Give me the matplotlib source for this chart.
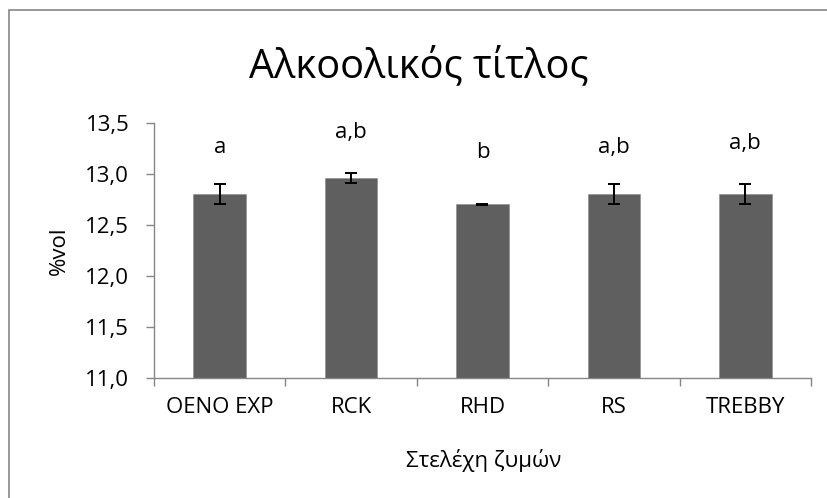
import matplotlib
matplotlib.use("Agg")
import matplotlib.pyplot as plt
from matplotlib.patches import Rectangle

plt.rcParams['font.family'] = ['Open Sans', 'DejaVu Sans']

# Alcohol content per yeast strain (% vol), with standard deviation
strains = ["OENO EXP", "RCK", "RHD", "RS", "TREBBY"]
alcohol = [12.8, 12.96, 12.7, 12.8, 12.8]
alcohol_sd = [0.1, 0.05, 0.005, 0.1, 0.1]
# Statistical grouping letters and the height at which they are written
groups = ["a", "a,b", "b", "a,b", "a,b"]
group_label_y = [13.26, 13.40, 13.21, 13.26, 13.30]

y_ticks = [11.0, 11.5, 12.0, 12.5, 13.0, 13.5]
y_tick_labels = ["11,0", "11,5", "12,0", "12,5", "13,0", "13,5"]

W, H = 828, 498
FS = 16
fig = plt.figure(figsize=(W / 100, H / 100), dpi=100)

# outer chart-area frame
fig.patches.append(Rectangle((8.5 / W, -0.1), 1.2, 1.1 - 10.5 / H,
                             transform=fig.transFigure, fill=False,
                             edgecolor="#868686", linewidth=1.2))

ax = fig.add_axes([154 / W, 1 - 378 / H, 657 / W, 255.3 / H])
x = list(range(len(strains)))
ax.bar(x, [v - 11.0 for v in alcohol], bottom=11.0, width=0.4,
       color="#5f5f5f", edgecolor="#8a8a8a", linewidth=0.4, zorder=2)
ax.errorbar(x, alcohol, yerr=alcohol_sd, fmt="none", ecolor="black",
            elinewidth=1.4, capsize=4.3, capthick=1.4, zorder=3)

for xi, txt, ty in zip(x, groups, group_label_y):
    ax.text(xi, ty, txt, ha="center", va="center", fontsize=FS)

ax.set_xlim(-0.5, len(strains) - 0.5)
ax.set_ylim(11.0, 13.5)
ax.set_yticks(y_ticks)
ax.set_yticklabels(y_tick_labels, fontsize=FS)
ax.set_xticks(x)
ax.set_xticklabels(strains, fontsize=FS)
ax.set_xticks([i - 0.5 for i in range(len(strains) + 1)], minor=True)
ax.tick_params(axis="x", which="major", length=0, pad=13.5)
ax.tick_params(axis="x", which="minor", length=5.5, color="#868686", width=1)
ax.tick_params(axis="y", length=5.8, color="#868686", width=1, pad=12)

for side in ("top", "right"):
    ax.spines[side].set_visible(False)
for side in ("left", "bottom"):
    ax.spines[side].set_color("#868686")
    ax.spines[side].set_linewidth(1)

fig.text(59 / W, 1 - 251 / H, "%vol", rotation=90, ha="center", va="center",
         fontsize=FS)
fig.text(484 / W, 1 - 467 / H, "Στελέχη ζυμών", ha="center", va="baseline",
         fontsize=FS)
fig.text(419 / W, 1 - 77 / H, "Αλκοολικός τίτλος", ha="center", va="baseline",
         fontsize=28.6)

fig.savefig("out.png", dpi=100)
